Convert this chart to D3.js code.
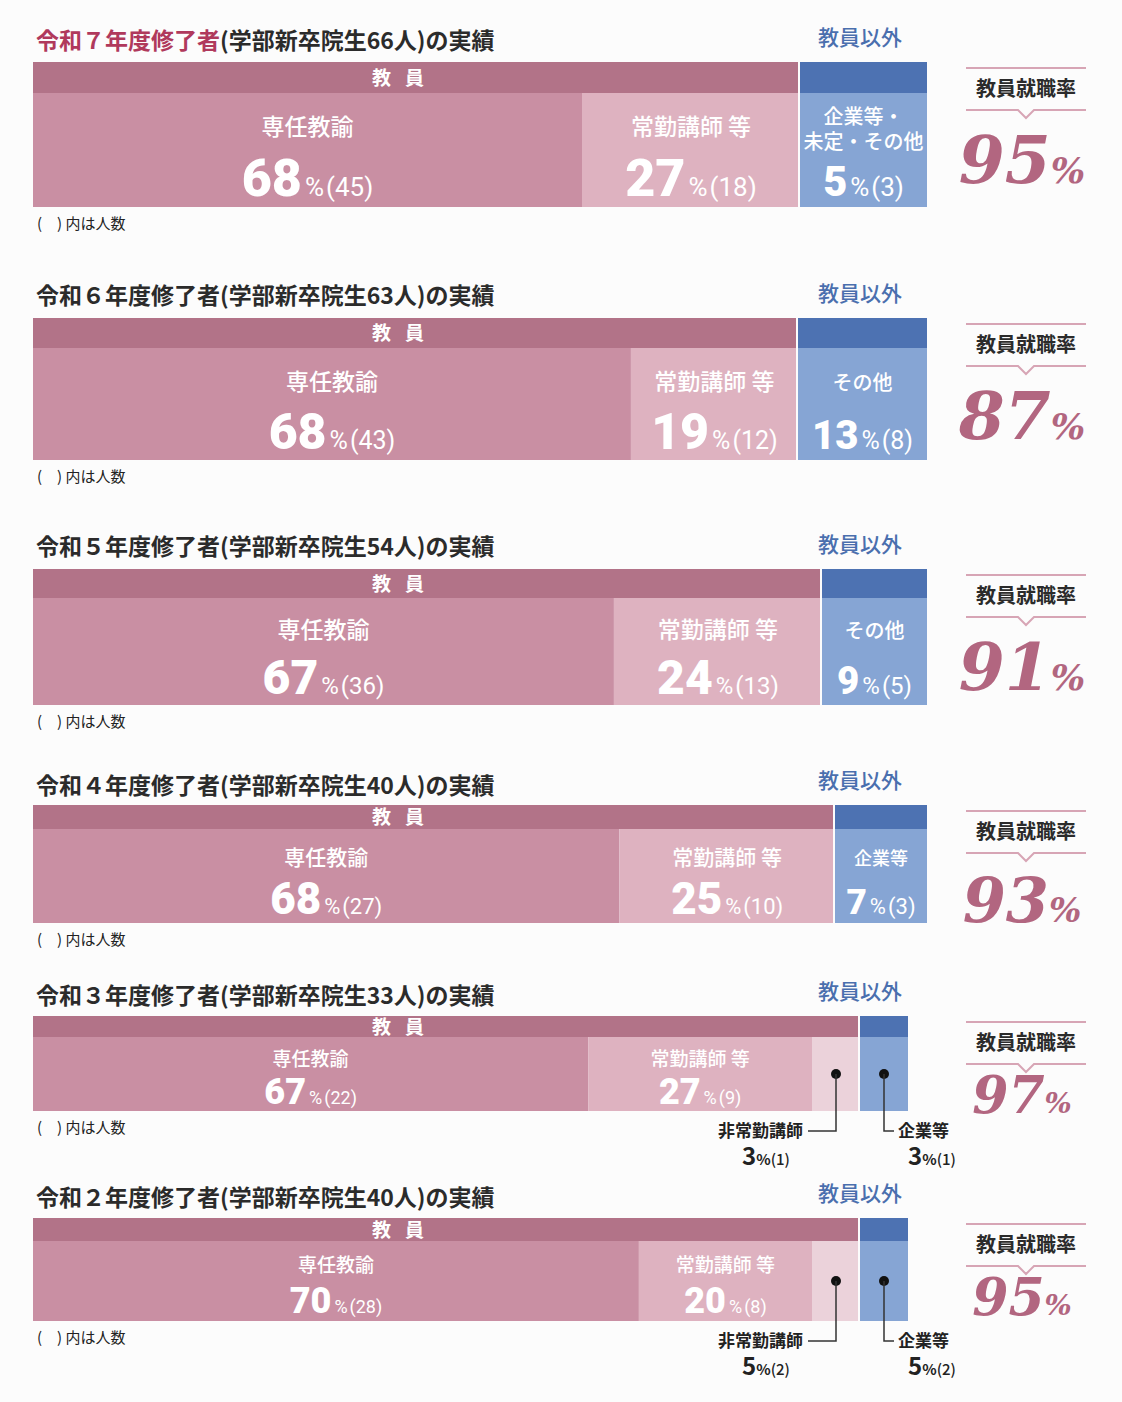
<!DOCTYPE html>
<html><head><meta charset="utf-8">
<script src="https://cdn.jsdelivr.net/npm/d3@7"></script>
<style>body{margin:0;background:#fcfcfc;font-family:"Noto Sans CJK JP","Noto Sans",sans-serif}</style>
</head><body><svg id="c" width="1122" height="1402"></svg>
<script>
const years = ["令和７年度修了者","令和６年度修了者","令和５年度修了者","令和４年度修了者","令和３年度修了者","令和２年度修了者"];
const totals = [66,63,54,40,33,40];
const senninPct = [68,68,67,68,67,70], senninN = [45,43,36,27,22,28];
const joukinPct = [27,19,24,25,27,20], joukinN = [18,12,13,10,9,8];
const hijoukinPct = [0,0,0,0,3,5], hijoukinN = [0,0,0,0,1,2];
const otherPct = [5,13,9,7,3,5], otherN = [3,8,5,3,1,2];
const otherLabel = [["企業等・","未定・その他"],["その他"],["その他"],["企業等"],["企業等"],["企業等"]];
const rates = [95,87,91,93,97,95];

const L = [
 {t:40,h:62,hb:93,b:207,right:927,big:52,lab:23,rs:66},
 {t:295,h:318,hb:348,b:460,right:927,big:50,lab:23,rs:66},
 {t:546,h:569,hb:598,b:705,right:927,big:48,lab:23,rs:66},
 {t:785,h:805,hb:829,b:923,right:927,big:44,lab:21,rs:62},
 {t:995,h:1016,hb:1037,b:1111,right:908,big:36,lab:19,rs:52},
 {t:1197,h:1218,hb:1241,b:1321,right:908,big:36,lab:19,rs:52}
];
const C={sennin:"#c98fa3",joukin:"#deb2c0",hij:"#ebd2da",other:"#86a5d4",hp:"#b27388",hb:"#4d72b2",red:"#b0395c",rate:"#b26680",blue:"#4a6fae"};
const svg=d3.select("#c");
const left=33;

years.forEach((y,i)=>{
  const l=L[i], g=svg.append("g");
  const small = hijoukinPct[i]>0;
  const minW = small?48:[127,129,105,92][i];
  const W=l.right-left;
  let segs=[{k:"sennin",p:senninPct[i],n:senninN[i]},{k:"joukin",p:joukinPct[i],n:joukinN[i]}];
  if(hijoukinPct[i]>0) segs.push({k:"hij",p:hijoukinPct[i],n:hijoukinN[i]});
  segs.push({k:"other",p:otherPct[i],n:otherN[i]});
  const x=d3.scaleLinear().domain([0,100]).range([0,W]);
  segs.forEach(s=>s.w=x(s.p));
  const fixed=segs.filter(s=>s.w<minW||s.k==="other"||s.k==="hij"); fixed.forEach(s=>s.w=minW);
  const rest=segs.filter(s=>!fixed.includes(s));
  const restP=d3.sum(rest,s=>s.p), restW=W-minW*fixed.length;
  const xr=d3.scaleLinear().domain([0,restP]).range([0,restW]);
  rest.forEach(s=>s.w=xr(s.p));
  let cx=left; segs.forEach(s=>{s.x=cx;cx+=s.w;});
  const oth=segs[segs.length-1];
  const tt=g.append("text").attr("x",left+3).attr("y",l.t+9).attr("font-size",23).attr("font-weight",700).attr("fill","#2b2b2b");
  tt.append("tspan").attr("fill",i===0?C.red:"#2b2b2b").text(y);
  tt.append("tspan").text(`(学部新卒院生${totals[i]}人)の実績`);
  g.append("text").attr("x",860).attr("y",l.h-17).attr("text-anchor","middle").attr("font-size",21).attr("font-weight",500).attr("fill",C.blue).text("教員以外");
  g.append("rect").attr("x",left).attr("y",l.h).attr("width",oth.x-left-2).attr("height",l.hb-l.h).attr("fill",C.hp);
  g.append("rect").attr("x",oth.x).attr("y",l.h).attr("width",oth.w).attr("height",l.hb-l.h).attr("fill",C.hb);
  g.append("text").attr("x",405).attr("y",(l.h+l.hb)/2+7).attr("text-anchor","middle").attr("font-size",19).attr("font-weight",700).attr("fill","#fff").attr("letter-spacing","14").text("教員");
  const bh=l.b-l.hb;
  segs.forEach((s,j)=>{
    const isO=s.k==="other";
    g.append("rect").attr("x",s.x).attr("y",l.hb).attr("width",(segs[j+1]&&segs[j+1].k==="other")?s.w-2:s.w).attr("height",bh).attr("fill",C[s.k]);
    const mid=s.x+s.w/2;
    if(small && (s.k==="hij"||s.k==="other")){
      const dy=l.hb+bh*0.5, ly=l.b+20;
      g.append("circle").attr("cx",mid).attr("cy",dy).attr("r",5).attr("fill","#111");
      const lx = s.k==="hij"? mid-28 : mid+10;
      g.append("path").attr("d",`M${mid},${dy}V${ly}H${lx}`).attr("fill","none").attr("stroke","#333").attr("stroke-width",1.5);
      const lab=s.k==="hij"?"非常勤講師":otherLabel[i][0];
      g.append("text").attr("x",s.k==="hij"?lx-5:lx+4).attr("y",ly+6).attr("text-anchor",s.k==="hij"?"end":"start").attr("font-size",17).attr("font-weight",700).attr("fill","#222").text(lab);
      const vt=g.append("text").attr("x",s.k==="hij"?mid-70:mid+48).attr("y",ly+34).attr("text-anchor","middle").attr("fill","#222").attr("font-weight",700);
      vt.append("tspan").attr("font-size",24).text(s.p);
      vt.append("tspan").attr("font-size",15).text("%");
      vt.append("tspan").attr("font-size",15).attr("font-weight",500).text(`(${s.n})`);
      return;
    }
    const names={sennin:["専任教諭"],joukin:["常勤講師 等"],other:otherLabel[i]}[s.k];
    const nl=names.length;
    const numY=l.b-bh*0.1;
    const nameY0 = nl===2? l.hb+bh*0.2 : l.hb+bh*0.3;
    names.forEach((n,k)=>g.append("text").attr("x",mid).attr("y",nameY0+k*l.lab*1.1+l.lab*0.35).attr("text-anchor","middle").attr("font-size",isO?l.lab-3:l.lab).attr("font-weight",500).attr("fill","#fff").text(n));
    const t=g.append("text").attr("x",mid).attr("y",numY).attr("text-anchor","middle").attr("fill","#fff").attr("font-family","Roboto,'Noto Sans',sans-serif");
    t.append("tspan").attr("font-size",isO?l.big*0.8:l.big).attr("font-weight",900).text(s.p);
    t.append("tspan").attr("font-size",l.big*0.5).attr("font-weight",400).attr("dx",3).text("%");
    t.append("tspan").attr("font-size",l.big*0.5).attr("font-weight",400).attr("dx",2).text(`(${s.n})`);
  });
  g.append("text").attr("x",left+4).attr("y",l.b+22).attr("font-size",15).attr("fill","#222").text("(　) 内は人数");
  const top=l.h+6, bot=top+42, rx0=966, rx1=1086, rc=1026;
  g.append("line").attr("x1",rx0).attr("x2",rx1).attr("y1",top).attr("y2",top).attr("stroke","#d7a5b5").attr("stroke-width",2);
  g.append("path").attr("d",`M${rx0},${bot}H${rc-8}L${rc},${bot+8}L${rc+8},${bot}H${rx1}`).attr("fill","none").attr("stroke","#d7a5b5").attr("stroke-width",2);
  g.append("text").attr("x",rc).attr("y",top+28).attr("text-anchor","middle").attr("font-size",20).attr("font-weight",700).attr("fill","#2b2b2b").text("教員就職率");
  const r=g.append("text").attr("x",rc-4).attr("y",bot+l.rs*0.95+(l.rs<60?0:10)).attr("text-anchor","middle").attr("fill",C.rate).attr("font-family","'DejaVu Serif','Liberation Serif',serif").attr("font-style","italic").attr("font-weight",700);
  r.append("tspan").attr("font-size",l.rs).text(rates[i]);
  r.append("tspan").attr("font-size",l.rs*0.55).text("%");
});
</script></body></html>
